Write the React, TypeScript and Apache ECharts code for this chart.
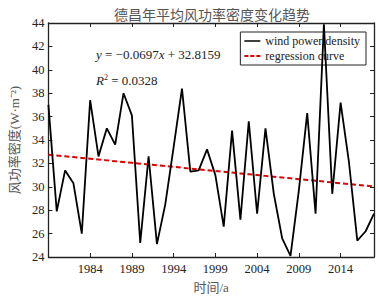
import React, { useEffect, useRef } from "react";
import * as echarts from "echarts";

const years: number[] = [];
for (let y = 1979; y <= 2018; y++) years.push(y);

const windPower: number[] = [
  37.0, 27.9, 31.4, 30.3, 26.0, 37.4, 32.6, 35.0, 33.6, 38.0,
  36.1, 25.2, 32.6, 25.1, 28.5, 33.4, 38.4, 31.3, 31.4, 33.2,
  31.0, 26.6, 34.8, 27.2, 35.6, 27.7, 35.0, 29.4, 25.6, 24.1,
  29.7, 36.3, 27.7, 43.9, 29.4, 37.2, 32.1, 25.4, 26.2, 27.7,
];

const slope = -0.0697;
const intercept = 32.8159;
const r2 = 0.0328;

const xTickYears = [1984, 1989, 1994, 1999, 2004, 2009, 2014];

const FONT = "'Liberation Serif', 'Noto Sans CJK SC', serif";

export default function App() {
  const ref = useRef<HTMLDivElement>(null);
  useEffect(() => {
    if (!ref.current) return;
    const chart = echarts.init(ref.current, undefined, { renderer: "svg" });
    const dataLine = years.map((y, i) => [y, windPower[i]]);
    const regLine = years.map((y, i) => [y, +(slope * (i + 1) + intercept).toFixed(4)]);
    const axisColor = "#222";
    chart.setOption({
      animation: false,
      backgroundColor: "#fff",
      title: {
        text: "德昌年平均风功率密度变化趋势",
        left: 207,
        textAlign: "center",
        top: 3,
        textStyle: { fontFamily: FONT, fontSize: 14, fontWeight: "normal", color: "#555" },
      },
      grid: { left: 40, right: 4, top: 23, bottom: 34 },
      legend: {
        right: 12,
        top: 32,
        orient: "vertical",
        itemGap: 3,
        itemWidth: 16,
        itemHeight: 10,
        padding: [3, 6, 3, 4],
        borderColor: "#222",
        borderWidth: 1,
        backgroundColor: "#fff",
        z: 4,
        textStyle: { fontFamily: FONT, fontSize: 12, color: "#222" },
        data: [
          { name: "wind power density", icon: "path://M0,5 L16,5 L16,6.5 L0,6.5 Z" },
          { name: "regression curve", icon: "path://M0,5 L4,5 L4,7 L0,7 Z M6,5 L10,5 L10,7 L6,7 Z M12,5 L16,5 L16,7 L12,7 Z" },
        ],
      },
      xAxis: [
        {
          type: "value",
          min: 1979,
          max: 2018,
          interval: 5,
          name: "时间/a",
          nameLocation: "middle",
          nameGap: 24,
          nameTextStyle: { fontFamily: FONT, fontSize: 13, color: "#555" },
          axisLine: { lineStyle: { color: axisColor, width: 1.3 } },
          axisTick: { inside: true, length: 4, lineStyle: { color: axisColor } },
          axisLabel: {
            showMinLabel: false,
            showMaxLabel: false,
            margin: 6,
            fontFamily: FONT,
            fontSize: 12.5,
            color: "#222",
            formatter: (v: number) => (xTickYears.includes(v) ? String(v) : ""),
          },
          splitLine: { show: false },
        },
        {
          type: "value",
          position: "top",
          min: 1979,
          max: 2018,
          interval: 5,
          axisLine: { lineStyle: { color: axisColor, width: 1.3 } },
          axisTick: { inside: true, length: 4, lineStyle: { color: axisColor } },
          axisLabel: { show: false },
          splitLine: { show: false },
        },
      ],
      yAxis: [
        {
          type: "value",
          min: 24,
          max: 44,
          interval: 2,
          name: "风功率密度(W·m⁻²)",
          nameLocation: "middle",
          nameGap: 26,
          nameTextStyle: { fontFamily: FONT, fontSize: 13, color: "#555" },
          axisLine: { show: true, lineStyle: { color: axisColor, width: 1.3 } },
          axisTick: { show: true, inside: true, length: 4, lineStyle: { color: axisColor } },
          axisLabel: { margin: 4, fontFamily: FONT, fontSize: 12.5, color: "#222" },
          splitLine: { show: false },
        },
        {
          type: "value",
          position: "right",
          min: 24,
          max: 44,
          interval: 2,
          axisLine: { show: true, lineStyle: { color: axisColor, width: 1.3 } },
          axisTick: { show: true, inside: true, length: 4, lineStyle: { color: axisColor } },
          axisLabel: { show: false },
          splitLine: { show: false },
        },
      ],
      graphic: [
        {
          type: "text",
          left: 96,
          top: 48,
          style: {
            text: "{i|y} = −0.0697{i|x} + 32.8159",
            fontFamily: FONT,
            fontSize: 13,
            fill: "#222",
            rich: { i: { fontStyle: "italic", fontFamily: FONT, fontSize: 13, fill: "#222" } },
          },
        },
        {
          type: "text",
          left: 96,
          top: 73,
          style: {
            text: "{i|R}{s|2} = 0.0328",
            fontFamily: FONT,
            fontSize: 13,
            fill: "#222",
            rich: {
              i: { fontStyle: "italic", fontFamily: FONT, fontSize: 13, fill: "#222" },
              s: { fontFamily: FONT, fontSize: 8, fill: "#222", verticalAlign: "top", padding: [0, 0, 6, 0] },
            },
          },
        },
      ],
      series: [
        {
          name: "wind power density",
          type: "line",
          data: dataLine,
          showSymbol: false,
          symbol: "none",
          lineStyle: { color: "#000", width: 1.8 },
          itemStyle: { color: "#000" },
          z: 10,
        },
        {
          name: "regression curve",
          type: "line",
          data: regLine,
          showSymbol: false,
          symbol: "none",
          lineStyle: { color: "#e00000", width: 2, type: [5, 3] },
          itemStyle: { color: "#e00000" },
          z: 2,
        },
      ],
    });
    return () => chart.dispose();
  }, []);
  return <div ref={ref} style={{ width: 378, height: 299, position: "absolute", left: 0, top: 0 }} />;
}
